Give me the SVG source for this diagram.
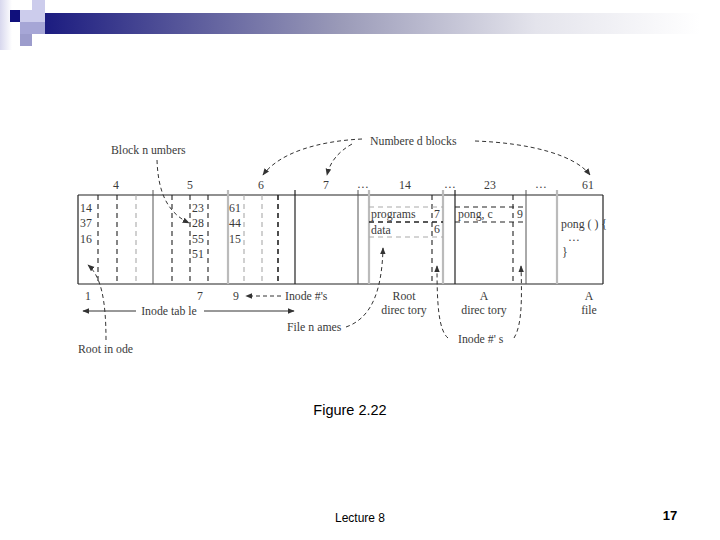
<svg xmlns="http://www.w3.org/2000/svg" width="720" height="540" viewBox="0 0 720 540">
<style>
.t{font-family:"Liberation Serif","Times New Roman",serif;font-size:11.8px;fill:#3a3a3a}
.m{text-anchor:middle}
.f{font-family:"Liberation Sans",Arial,sans-serif;fill:#000}
.b{stroke:#222;stroke-width:1.2;fill:none}
.s{stroke:#555;stroke-width:1;fill:none}
.g{stroke:#bbb;stroke-width:2.2;fill:none}
.d{stroke:#222;stroke-width:1.1;stroke-dasharray:5,4;fill:none}
.dg{stroke:#aaa;stroke-width:1.1;stroke-dasharray:5,4;fill:none}
.dt{stroke:#222;stroke-width:1.6;stroke-dasharray:5,4;fill:none}
.c{stroke:#333;stroke-width:1;stroke-dasharray:4,3;fill:none}
.a{stroke:#333;stroke-width:1;fill:none}
</style>
<defs>
<linearGradient id="bar" x1="0" x2="1" y1="0" y2="0">
<stop offset="0" stop-color="#1c1c80"/>
<stop offset="0.45" stop-color="#9a9ab8"/>
<stop offset="0.75" stop-color="#e4e4ec"/>
<stop offset="1" stop-color="#ffffff"/>
</linearGradient>
<linearGradient id="fade" x1="0" x2="1" y1="0" y2="0">
<stop offset="0" stop-color="#d8d8ee"/>
<stop offset="1" stop-color="#ffffff"/>
</linearGradient>
<marker id="ah" viewBox="0 0 10 10" refX="9" refY="5" markerWidth="7" markerHeight="7" markerUnits="userSpaceOnUse" orient="auto">
<path d="M0,1 L10,5 L0,9 Z" fill="#333"/>
</marker>
</defs>
<rect width="720" height="540" fill="#fff"/>
<g id="header">
<rect x="0" y="0" width="12" height="50" fill="url(#fade)"/>
<rect x="45" y="13" width="655" height="21" fill="url(#bar)"/>
<rect x="10" y="10" width="10" height="12" fill="#10107c"/>
<rect x="20" y="10" width="25" height="12" fill="#ccccec"/>
<rect x="32" y="0" width="13" height="10" fill="#ccccec"/>
<rect x="20" y="22" width="25" height="12" fill="#a6a6d6"/>
<rect x="20" y="34" width="12" height="12" fill="#9c9ccc"/>
</g>
<g id="table">
<line class="b" x1="78" y1="195" x2="603" y2="195"/>
<line class="b" x1="78" y1="284" x2="603" y2="284"/>
<line class="b" x1="78" y1="195" x2="78" y2="284"/>
<line class="b" x1="603" y1="195" x2="603" y2="284"/>
<line class="d" x1="98" y1="195" x2="98" y2="284"/>
<line class="d" x1="117" y1="195" x2="117" y2="284"/>
<line class="dg" x1="136" y1="195" x2="136" y2="284"/>
<line class="s" x1="153" y1="190" x2="153" y2="284"/>
<line class="d" x1="172" y1="195" x2="172" y2="284"/>
<line class="d" x1="190" y1="195" x2="190" y2="284"/>
<line class="d" x1="208" y1="195" x2="208" y2="284"/>
<line class="g" x1="228" y1="190" x2="228" y2="284"/>
<line class="dg" x1="244" y1="195" x2="244" y2="284"/>
<line class="dg" x1="262" y1="195" x2="262" y2="284"/>
<line class="dt" x1="278" y1="195" x2="278" y2="284"/>
<line class="b" x1="295" y1="190" x2="295" y2="284"/>
<line class="s" x1="358" y1="190" x2="358" y2="284"/>
<line class="g" x1="369" y1="190" x2="369" y2="284"/>
<line class="d" x1="432" y1="195" x2="432" y2="284"/>
<line class="g" x1="443" y1="190" x2="443" y2="284"/>
<line class="b" x1="455" y1="190" x2="455" y2="284"/>
<line class="d" x1="513" y1="195" x2="513" y2="284"/>
<line class="s" x1="526" y1="190" x2="526" y2="284"/>
<line class="g" x1="557" y1="190" x2="557" y2="284"/>
<line class="dg" x1="369" y1="207" x2="443" y2="207"/>
<line class="dt" x1="369" y1="222" x2="443" y2="222"/>
<line class="dg" x1="369" y1="237" x2="443" y2="237"/>
<line class="d" x1="455" y1="207" x2="526" y2="207"/>
<line class="d" x1="455" y1="222" x2="526" y2="222"/>
</g>
<g id="block-labels">
<text class="t m" x="116" y="189">4</text>
<text class="t m" x="190" y="189">5</text>
<text class="t m" x="261" y="189">6</text>
<text class="t m" x="326" y="189">7</text>
<text class="t m" x="363" y="188">…</text>
<text class="t m" x="405" y="189">14</text>
<text class="t m" x="450" y="188">…</text>
<text class="t m" x="490" y="189">23</text>
<text class="t m" x="541" y="188">…</text>
<text class="t m" x="588" y="189">61</text>
</g>
<g id="block4">
<text class="t" x="80" y="212">14</text>
<text class="t" x="80" y="227">37</text>
<text class="t" x="80" y="243">16</text>
</g>
<g id="block5">
<text class="t" x="192" y="212">23</text>
<text class="t" x="192" y="227">28</text>
<text class="t" x="192" y="243">55</text>
<text class="t" x="192" y="258">51</text>
</g>
<g id="block6">
<text class="t" x="229" y="212">61</text>
<text class="t" x="229" y="227">44</text>
<text class="t" x="229" y="243">15</text>
</g>
<g id="block14">
<text class="t" x="371" y="218">programs</text>
<text class="t" x="434" y="218">7</text>
<text class="t" x="371" y="234">data</text>
<text class="t" x="434" y="233">6</text>
</g>
<g id="block23">
<text class="t" x="458" y="218">pong, c</text>
<text class="t" x="517" y="218">9</text>
</g>
<g id="block61">
<text class="t" x="561" y="228">pong ( ) {</text>
<text class="t" x="568" y="241">…</text>
<text class="t" x="562" y="256">}</text>
</g>
<g id="bottom-labels">
<text class="t" x="85" y="300">1</text>
<text class="t" x="197" y="300">7</text>
<text class="t" x="233" y="300">9</text>
<text class="t" x="285" y="300">Inode #'s</text>
<text class="t m" x="404" y="300">Root</text>
<text class="t m" x="404" y="314">direc tory</text>
<text class="t m" x="484" y="300">A</text>
<text class="t m" x="484" y="314">direc tory</text>
<text class="t m" x="589" y="300">A</text>
<text class="t m" x="589" y="314">file</text>
<text class="t m" x="169" y="315">Inode tab le</text>
<text class="t" x="287" y="331">File n ames</text>
<text class="t" x="458" y="343">Inode #' s</text>
<text class="t" x="78" y="353">Root in ode</text>
<text class="t" x="111" y="154">Block n umbers</text>
<text class="t" x="370" y="145">Numbere d blocks</text>
</g>
<g id="connectors">
<line class="a" x1="136" y1="311" x2="83" y2="311" marker-end="url(#ah)"/>
<line class="a" x1="204" y1="311" x2="294" y2="311" marker-end="url(#ah)"/>
<line class="c" x1="281" y1="296" x2="246" y2="296" marker-end="url(#ah)"/>
<path class="c" d="M157,160 C158,190 166,212 189,223" marker-end="url(#ah)"/>
<path class="c" d="M362,139 C320,141 280,152 263,175" marker-end="url(#ah)"/>
<path class="c" d="M352,144 C338,152 330,162 327,175" marker-end="url(#ah)"/>
<path class="c" d="M475,141 C530,143 575,155 590,175" marker-end="url(#ah)"/>
<path class="c" d="M106,340 C106,300 101,276 88,265" marker-end="url(#ah)"/>
<path class="c" d="M346,327 C372,318 382,290 383,248" marker-end="url(#ah)"/>
<path class="c" d="M448,338 C438,330 437,300 437,266" marker-end="url(#ah)"/>
<path class="c" d="M514,338 C522,325 522,300 521,266" marker-end="url(#ah)"/>
</g>
<g id="footer">
<text class="f" x="350" y="415" font-size="14.5" text-anchor="middle">Figure 2.22</text>
<text class="f" x="360" y="522" font-size="12" text-anchor="middle">Lecture 8</text>
<text class="f" x="670" y="520" font-size="13" font-weight="bold" text-anchor="middle">17</text>
</g>
</svg>
